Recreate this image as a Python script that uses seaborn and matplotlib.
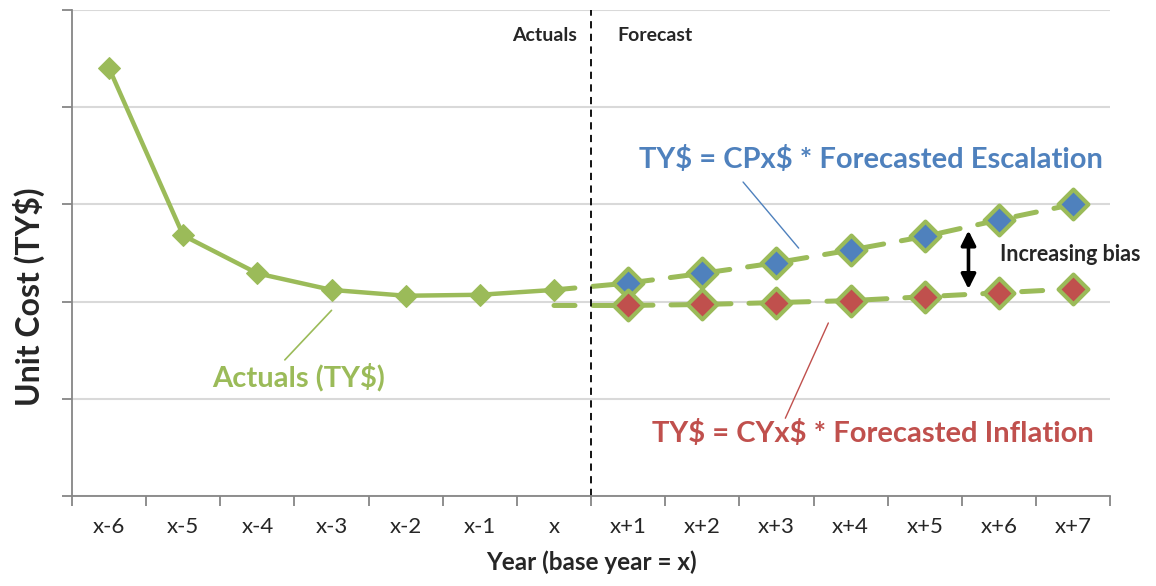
import numpy as np
import pandas as pd
import matplotlib
matplotlib.use('Agg')
import matplotlib.pyplot as plt
import seaborn as sns

years = ['x-6', 'x-5', 'x-4', 'x-3', 'x-2', 'x-1', 'x',
         'x+1', 'x+2', 'x+3', 'x+4', 'x+5', 'x+6', 'x+7']
actuals = [4.40, 2.68, 2.29, 2.12, 2.06, 2.07, 2.12]
# forecast series start at base year x
escalation = [2.12, 2.19, 2.29, 2.40, 2.53, 2.67, 2.84, 3.00]
inflation = [1.96, 1.96, 1.97, 1.99, 2.01, 2.05, 2.09, 2.13]

green = '#9BBB59'
blue = '#4F81BD'
red = '#C0504D'

sns.set_style('white')
plt.rcParams['font.family'] = ['Lato', 'DejaVu Sans']

act = pd.DataFrame({'pos': np.arange(len(actuals)), 'cost': actuals})
base = len(actuals) - 1
esc = pd.DataFrame({'pos': np.arange(base, base + len(escalation)), 'cost': escalation})
inf = pd.DataFrame({'pos': np.arange(base, base + len(inflation)), 'cost': inflation})

fig = plt.figure(figsize=(11.56, 5.86), dpi=100)
ax = fig.add_axes([0.0623, 0.1536, 0.898, 0.8294])

for d in (esc, inf):
    sns.lineplot(data=d, x='pos', y='cost', ax=ax, color=green, lw=3.6)
    ax.lines[-1].set_dashes((4.2, 3.6))
    ax.lines[-1].set_dash_capstyle('round')

sns.lineplot(data=act, x='pos', y='cost', ax=ax, color=green, lw=3.2,
             marker='D', markersize=11.5, markeredgecolor=green)

sns.scatterplot(data=esc.iloc[1:], x='pos', y='cost', ax=ax, marker='D', s=230,
                color=blue, edgecolor=green, linewidth=3, zorder=5)
sns.scatterplot(data=inf.iloc[1:], x='pos', y='cost', ax=ax, marker='D', s=230,
                color=red, edgecolor=green, linewidth=3, zorder=5)

ax.axvline(base + 0.5, color='black', lw=1.3, ls=(0, (4, 3)))

ax.set_xlim(-0.5, len(years) - 0.5)
ax.set_ylim(0, 5)
ax.set_yticks(np.arange(0, 6))
ax.set_yticklabels([])
ax.yaxis.grid(True, color='#D9D9D9', lw=1.5)
ax.set_axisbelow(True)
ax.set_xticks(np.arange(len(years) + 1) - 0.5)
ax.set_xticklabels([])
ax.set_xticks(np.arange(len(years)), minor=True)
ax.set_xticklabels(years, minor=True, fontsize=16)
ax.tick_params(axis='x', which='minor', length=0, pad=15)
ax.tick_params(axis='both', which='major', length=7, width=1.3, color='#868686',
               direction='out', bottom=True, left=True)
for s in ('top', 'right'):
    ax.spines[s].set_visible(False)
for s in ('left', 'bottom'):
    ax.spines[s].set_color('#868686')
    ax.spines[s].set_linewidth(1.3)

ax.set_xlabel('Year (base year = x)', fontsize=17.5, fontweight='bold', labelpad=10)
ax.set_ylabel('Unit Cost (TY\\$)', fontsize=23, fontweight='bold')
ax.yaxis.set_label_coords(-0.026, 0.41)

ax.text(base + 0.31, 4.74, 'Actuals', ha='right', va='center', fontsize=14, fontweight='bold')
ax.text(base + 0.86, 4.74, 'Forecast', ha='left', va='center', fontsize=14, fontweight='bold')

ax.text(2.56, 1.22, 'Actuals (TY\\$)', color=green, ha='center', va='center',
        fontsize=21, fontweight='bold')
ax.plot([3.0, 2.37], [1.91, 1.40], color=green, lw=1.2)

ax.text(10.27, 3.46, 'TY\\$ = CPx\\$ * Forecasted Escalation', color=blue, ha='center',
        va='center', fontsize=21, fontweight='bold')
ax.plot([8.55, 9.30], [3.23, 2.55], color=blue, lw=1.0)

ax.text(10.30, 0.64, 'TY\\$ = CYx\\$ * Forecasted Inflation', color=red, ha='center',
        va='center', fontsize=21, fontweight='bold')
ax.plot([9.70, 9.12], [1.78, 0.80], color=red, lw=1.0)

ax.annotate('', xy=(11.59, 2.10), xytext=(11.59, 2.76),
            arrowprops=dict(arrowstyle='<|-|>', color='black', lw=2.6, mutation_scale=22))
ax.text(12.02, 2.48, 'Increasing bias', ha='left', va='center', fontsize=15.5,
        fontweight='bold')

fig.savefig('out.png', dpi=100)
